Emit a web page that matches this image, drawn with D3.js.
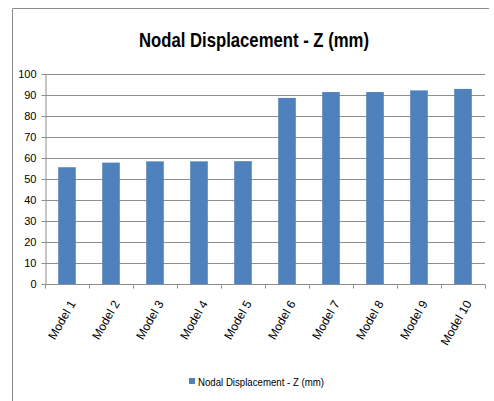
<!DOCTYPE html>
<html>
<head>
<meta charset="utf-8">
<script src="https://cdn.jsdelivr.net/npm/d3@7"></script>
<style>
  body { margin: 0; background: #fff; }
  svg { display: block; font-family: "Liberation Sans Narrow", "Liberation Sans", Arial, sans-serif; }
  .grid line { stroke: #8e8e8e; stroke-width: 1; }
  .axis path, .axis line { stroke: #8e8e8e; }
  .axis text { fill: #000; }
</style>
</head>
<body>
<svg id="chart"></svg>
<script>
// chart data
var categories = ["Model 1", "Model 2", "Model 3", "Model 4", "Model 5",
                  "Model 6", "Model 7", "Model 8", "Model 9", "Model 10"];
var displacementZ = [55.6, 57.8, 58.4, 58.4, 58.5, 88.6, 91.4, 91.4, 92.2, 92.9];
var yTicks = [0, 10, 20, 30, 40, 50, 60, 70, 80, 90, 100];
var seriesName = "Nodal Displacement - Z (mm)";
var chartTitle = "Nodal Displacement - Z (mm)";

var width = 494, height = 401;
var margin = {top: 74, right: 9, bottom: 117, left: 45};

var svg = d3.select("#chart").attr("width", width).attr("height", height);

// outer frame (only top and left edges are visible in the crop)
svg.append("line").attr("x1", 12.5).attr("x2", 489).attr("y1", 8.5).attr("y2", 8.5)
  .attr("stroke", "#8c8c8c");
svg.append("line").attr("x1", 12.5).attr("x2", 12.5).attr("y1", 8.5).attr("y2", height)
  .attr("stroke", "#8c8c8c");

svg.append("text")
  .attr("x", 254).attr("y", 47)
  .attr("text-anchor", "middle")
  .attr("font-size", 21).attr("font-weight", "bold")
  .attr("textLength", 230).attr("lengthAdjust", "spacingAndGlyphs")
  .text(chartTitle);

var x = d3.scaleBand().domain(categories)
  .range([margin.left, width - margin.right])
  .paddingInner(0.6).paddingOuter(0.3);
var xOuter = d3.scaleBand().domain(categories).range([margin.left, width - margin.right]);
var y = d3.scaleLinear().domain([0, 100]).range([height - margin.bottom, margin.top]);

// gridlines
svg.append("g").attr("class", "grid")
  .selectAll("line").data(yTicks.slice(1)).enter().append("line")
  .attr("x1", margin.left).attr("x2", width - margin.right)
  .attr("y1", function(d) { return Math.round(y(d)) + 0.5; })
  .attr("y2", function(d) { return Math.round(y(d)) + 0.5; });

// bars
svg.append("g").selectAll("rect").data(displacementZ).enter().append("rect")
  .attr("x", function(d, i) { return x(categories[i]); })
  .attr("width", x.bandwidth())
  .attr("y", function(d) { return y(d); })
  .attr("height", function(d) { return y(0) - y(d); })
  .attr("fill", "#4f81bd");

// y axis
var yAxis = svg.append("g").attr("class", "axis")
  .attr("transform", "translate(" + (margin.left + 0.5) + ",0)")
  .call(d3.axisLeft(y).tickValues(yTicks).tickSize(4).tickSizeOuter(0).tickPadding(5));
yAxis.selectAll("text").attr("font-size", 11).attr("font-family", "inherit");

// x axis with ticks on category boundaries
var base = Math.round(y(0)) + 0.5;
var xg = svg.append("g").attr("class", "axis");
xg.append("line").attr("x1", margin.left).attr("x2", width - margin.right)
  .attr("y1", base).attr("y2", base);
xg.selectAll(".tk").data(categories.concat(["end"])).enter().append("line")
  .attr("class", "tk")
  .attr("x1", function(d, i) { return Math.round(margin.left + i * xOuter.step()) + 0.5; })
  .attr("x2", function(d, i) { return Math.round(margin.left + i * xOuter.step()) + 0.5; })
  .attr("y1", base).attr("y2", base + 4);
xg.selectAll(".lbl").data(categories).enter().append("text")
  .attr("class", "lbl")
  .attr("font-size", 12)
  .attr("text-anchor", "end")
  .attr("transform", function(d) {
    return "translate(" + (xOuter(d) + xOuter.bandwidth() / 2 + 9) + "," + (base + 19) + ") rotate(-60)";
  })
  .text(function(d) { return d; });

// legend
var lg = svg.append("g");
lg.append("rect").attr("x", 189).attr("y", 378).attr("width", 6).attr("height", 6).attr("fill", "#4f81bd");
lg.append("text").attr("x", 198).attr("y", 385.5).attr("font-size", 11)
  .attr("textLength", 126).attr("lengthAdjust", "spacingAndGlyphs")
  .text(seriesName);
</script>
</body>
</html>
